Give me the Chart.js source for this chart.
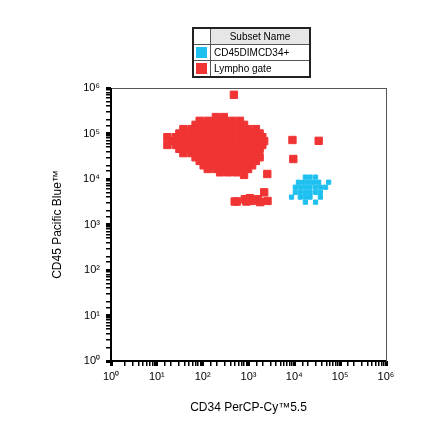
<!DOCTYPE html>
<html><head><meta charset="utf-8">
<script src="https://cdn.jsdelivr.net/npm/chart.js@4"></script>
<style>
body{margin:0;background:#fff;font-family:"Liberation Sans",Arial,sans-serif}
#wrap{position:relative;width:440px;height:441px}
#lg{position:absolute;left:192px;top:27px;border-collapse:collapse;border:2px solid #222;font-size:10px}
#lg td{border:1px solid #555;height:15px;padding:0 3px}
#lg .sw{width:12px;padding:0 2px}
#lg .sw div{width:11px;height:11px}
</style></head><body>
<div id="wrap">
<canvas id="c" width="440" height="441"></canvas>
<table id="lg">
<tr><td class="sw"></td><td style="background:#e6e6e6;text-align:center;width:92px">Subset Name</td></tr>
<tr><td class="sw"><div style="background:#1ec0f0"></div></td><td>CD45DIMCD34+</td></tr>
<tr><td class="sw"><div style="background:#f03434"></div></td><td>Lympho gate</td></tr>
</table>
</div>
<script>
const tickLabels=['10⁰','10¹','10²','10³','10⁴','10⁵','10⁶'];
const lymphoX=[86,129,194,290,436,650,
38,57,86,129,194,290,436,650,980,1450,
17,26,38,57,86,129,194,290,436,650,980,1450,2000,
17,26,38,57,86,129,194,290,436,650,980,1450,2000,
38,57,86,129,194,290,436,650,980,1450,
86,129,194,290,436,650,980,1450,
129,194,290,436,650,980,
194,290,
70,105,158,240,360,540,800,
31,47,70,105,158,240,360,540,800,1200,1750,
21,31,47,70,105,158,240,360,540,800,1200,1750,2200,
31,47,70,105,158,240,360,540,800,1200,1750,
70,105,158,240,360,540,800,1200,1750,
105,158,240,360,540,800,1200,
240,360,540,
480,9100,34000,9500,2570,800,
500,560,830,900,1070,1200,1620,1800,2200,2600];
const lymphoY=[190000,190000,190000,190000,190000,190000,
125000,125000,125000,125000,125000,125000,125000,125000,125000,125000,
83000,83000,83000,83000,83000,83000,83000,83000,83000,83000,83000,83000,83000,
56000,56000,56000,56000,56000,56000,56000,56000,56000,56000,56000,56000,56000,
37000,37000,37000,37000,37000,37000,37000,37000,37000,37000,
25000,25000,25000,25000,25000,25000,25000,25000,
16600,16600,16600,16600,16600,16600,
230000,230000,
155000,155000,155000,155000,155000,155000,155000,
100000,100000,100000,100000,100000,100000,100000,100000,100000,100000,100000,
68000,68000,68000,68000,68000,68000,68000,68000,68000,68000,68000,68000,68000,
46000,46000,46000,46000,46000,46000,46000,46000,46000,46000,46000,
30000,30000,30000,30000,30000,30000,30000,30000,30000,
20000,20000,20000,20000,20000,20000,20000,
14000,14000,14000,
710000,72000,69000,27500,12900,12300,
3200,3200,3600,3200,3800,3300,3600,3100,5100,3300];
const cd34X=[17400,22000,29000,
12300,16000,20500,26000,34000,56000,
10500,13500,17400,22000,29000,37000,48000,
10500,13500,17400,22000,29000,37000,
8700,13500,17400,22000,37000,
17400,29000];
const cd34Y=[11000,11000,11000,
8500,8500,8500,8500,8500,8500,
6600,6600,6600,6600,6600,6600,6600,
5100,5100,5100,5100,5100,5100,
4000,4000,4000,4000,4000,
3100,3100];
const pts=(xs,ys)=>xs.map((x,i)=>({x,y:ys[i]}));
const isMajor=v=>Math.abs(Math.log10(v)-Math.round(Math.log10(v)))<1e-6;
const lbl=v=>isMajor(v)?tickLabels[Math.round(Math.log10(v))]:'';
const font={family:'"Liberation Sans",Arial,sans-serif',size:11};
const frame={id:'frame',afterDraw(ch){const a=ch.chartArea,x=ch.ctx;x.save();x.strokeStyle='#555';x.lineWidth=1;x.strokeRect(a.left+0.5,a.top+0.5,a.right-a.left,a.bottom-a.top);x.strokeStyle='#000';x.lineWidth=2;x.beginPath();x.moveTo(a.left,a.top);x.lineTo(a.left,a.bottom);x.lineTo(a.right,a.bottom);x.stroke();x.restore();}};
const grid={drawOnChartArea:false,drawTicks:true,tickLength:5,color:'#000',lineWidth:c=>c.tick&&isMajor(c.tick.value)?3:1.5};
new Chart(document.getElementById('c'),{type:'scatter',
data:{datasets:[
{label:'Lympho gate',data:pts(lymphoX,lymphoY),backgroundColor:'#f03434',borderColor:'#f03434',pointStyle:'rect',pointRadius:5.2},
{label:'CD45DIMCD34+',data:pts(cd34X,cd34Y),backgroundColor:'#1ec0f0',borderColor:'#1ec0f0',pointStyle:'rect',pointRadius:3}]},
options:{responsive:false,animation:false,events:[],
layout:{padding:{left:46,right:54,top:88,bottom:22}},
plugins:{legend:{display:false},tooltip:{enabled:false}},
scales:{
x:{type:'logarithmic',min:1,max:1e6,border:{display:false},grid,
afterFit:s=>{s.height=58;},
ticks:{color:'#000',font,autoSkip:false,maxRotation:0,padding:4,callback:lbl},
title:{display:true,text:'CD34 PerCP-Cy™5.5',color:'#000',font:{...font,size:12},padding:{top:12}}},
y:{type:'logarithmic',min:1,max:1e6,border:{display:false},grid,
afterFit:s=>{s.width=65;},
ticks:{color:'#000',font,autoSkip:false,padding:6,callback:lbl},
title:{display:true,text:'CD45 Pacific Blue™',color:'#000',font:{...font,size:12},padding:{bottom:14}}}}},
plugins:[frame]});
</script></body></html>
